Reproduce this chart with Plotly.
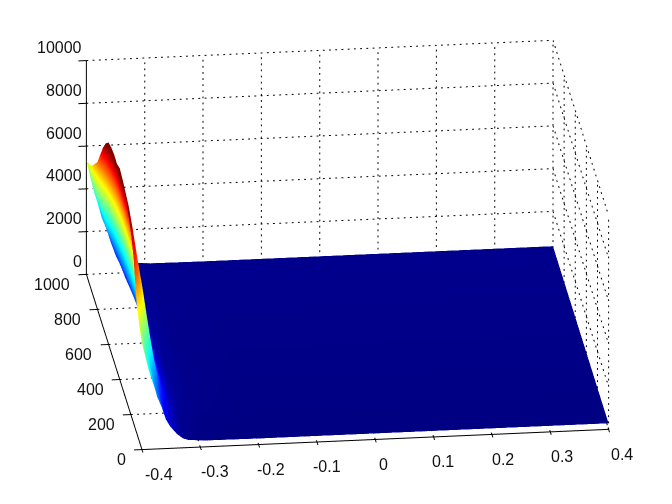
import plotly.graph_objects as go

x_ticks = [-0.4, -0.3, -0.2, -0.1, 0, 0.1, 0.2, 0.3, 0.4]
x_labels = ["-0.4", "-0.3", "-0.2", "-0.1", "0", "0.1", "0.2", "0.3", "0.4"]
y_ticks = [0, 200, 400, 600, 800, 1000]
z_ticks = [0, 2000, 4000, 6000, 8000, 10000]

x_values = [-0.4, -0.394, -0.388, -0.38, -0.374, -0.366, -0.359, -0.352, -0.34, -0.33, -0.32, -0.29, -0.2, 0.4]
y_values = [0, 50, 100, 150, 200, 300, 400, 450, 500, 550, 600, 650, 700, 750, 800, 900, 1000]
z_y0 = [4970, 4313, 3657, 3000, 2437, 1922, 1359, 1030, 655, 444, 350, 294, 280, 280]
z_y50 = [5400, 4684, 3968, 3252, 2638, 2075, 1461, 1103, 694, 464, 362, 300, 285, 285]
z_y100 = [6100, 5287, 4473, 3660, 2963, 2324, 1626, 1220, 755, 493, 377, 307, 290, 290]
z_y150 = [7704, 6966, 6079, 4970, 4010, 3012, 2089, 1498, 870, 575, 427, 338, 295, 295]
z_y200 = [8507, 7934, 7116, 5887, 4824, 3431, 2368, 1631, 895, 608, 444, 346, 300, 300]
z_y300 = [9540, 8896, 7974, 6592, 5395, 3829, 2632, 1802, 973, 651, 466, 356, 310, 310]
z_y400 = [9888, 9219, 8263, 6829, 5587, 3961, 2719, 1859, 999, 664, 473, 358, 320, 320]
z_y450 = [9680, 9025, 8090, 6686, 5470, 3880, 2664, 1822, 980, 652, 465, 353, 325, 325]
z_y500 = [9700, 9044, 8107, 6702, 5484, 3891, 2673, 1829, 986, 658, 471, 358, 330, 330]
z_y550 = [9620, 8970, 8042, 6649, 5442, 3863, 2656, 1821, 985, 660, 474, 363, 335, 335]
z_y600 = [9450, 8812, 7901, 6535, 5351, 3802, 2618, 1798, 978, 659, 477, 367, 340, 340]
z_y650 = [9000, 8394, 7528, 6230, 5104, 3633, 2507, 1728, 949, 646, 473, 369, 343, 343]
z_y700 = [8400, 7836, 7031, 5822, 4775, 3406, 2359, 1634, 909, 627, 466, 369, 345, 345]
z_y750 = [7650, 7139, 6409, 5314, 4365, 3124, 2175, 1518, 861, 605, 460, 372, 350, 350]
z_y800 = [6900, 6442, 5787, 4806, 3955, 2842, 1991, 1402, 813, 584, 453, 375, 355, 355]
z_y900 = [5900, 5125, 4350, 3575, 2911, 2302, 1638, 1251, 808, 559, 448, 382, 365, 365]
z_y1000 = [5300, 4611, 3921, 3232, 2641, 2099, 1508, 1163, 769, 547, 449, 390, 375, 375]
z_rows = [z_y0, z_y50, z_y100, z_y150, z_y200, z_y300, z_y400, z_y450, z_y500, z_y550, z_y600,
          z_y650, z_y700, z_y750, z_y800, z_y900, z_y1000]

jet = [[0, "rgb(0,0,128)"], [0.125, "rgb(0,0,255)"], [0.375, "rgb(0,255,255)"],
       [0.625, "rgb(255,255,0)"], [0.875, "rgb(255,0,0)"], [1, "rgb(128,0,0)"]]

x0, x1 = x_ticks[0], x_ticks[-1]
y0, y1 = y_ticks[0], y_ticks[-1]
z0, z1 = z_ticks[0], z_ticks[-1]

gx, gy, gz = [], [], []
def seg(a, b, n):
    # a dotted grid line: n short solid dashes between two axis ticks
    for i in range(n):
        for k in (i, i + 0.3):
            s = k / n
            gx.append(a[0] + (b[0] - a[0]) * s)
            gy.append(a[1] + (b[1] - a[1]) * s)
            gz.append(a[2] + (b[2] - a[2]) * s)
        gx.append(None); gy.append(None); gz.append(None)
for t in x_ticks:
    seg((t, y0, z0), (t, y1, z0), 30)
    seg((t, y1, z0), (t, y1, z1), 35)
for t in y_ticks:
    seg((x0, t, z0), (x1, t, z0), 75)
    seg((x1, t, z0), (x1, t, z1), 35)
for t in z_ticks:
    seg((x0, y1, t), (x1, y1, t), 75)
    seg((x1, y1, t), (x1, y0, t), 30)

fig = go.Figure()
fig.add_trace(go.Scatter3d(x=gx, y=gy, z=gz, mode="lines", hoverinfo="skip",
                           line=dict(color="black", width=2), showlegend=False))
fig.add_trace(go.Surface(x=x_values, y=y_values, z=z_rows, colorscale=jet, cmin=250, cmax=8900,
                         showscale=False, hoverinfo="skip",
                         lighting=dict(ambient=1, diffuse=0, specular=0, roughness=1, fresnel=0)))

def axis(rng, ticks):
    return dict(range=rng, tickvals=ticks, showgrid=False, zeroline=False, showbackground=False,
                showline=True, linecolor="black", linewidth=2, ticks="outside", ticklen=8,
                tickcolor="black", tickwidth=2, showspikes=False, title=dict(text=""),
                showticklabels=False)

font = dict(family="Liberation Sans, Arial", size=16, color="#111111")
ann = []
for t, s in zip(x_ticks, x_labels):
    ann.append(dict(x=t, y=y0, z=z0, text=s, showarrow=False, font=font, xanchor="center",
                    yanchor="middle", xshift=8 + 24 * abs(t) if t < 0 else 8 + 14 * t, yshift=-25))
for t in y_ticks:
    ann.append(dict(x=x0, y=t, z=z0, text=str(t), showarrow=False, font=font, xanchor="right",
                    yanchor="middle", xshift=-14, yshift=-10))
for t in z_ticks:
    ann.append(dict(x=x0, y=y1, z=t, text=str(t), showarrow=False, font=font, xanchor="right",
                    yanchor="middle", xshift=-2, yshift=13))

fig.update_layout(
    width=672, height=504, paper_bgcolor="white", margin=dict(l=0, r=0, t=0, b=0),
    scene=dict(
        domain=dict(x=[0.022, 0.988], y=[0.054, 1]),
        xaxis=axis([x0, x1], x_ticks),
        yaxis=axis([y0, y1], y_ticks),
        zaxis=axis([z0, z1], z_ticks),
        annotations=ann,
        aspectmode="manual", aspectratio=dict(x=1.97, y=2.0, z=0.965),
        camera=dict(projection=dict(type="orthographic"), up=dict(x=0, y=0, z=1),
                    center=dict(x=0, y=0, z=-0.007),
                    eye=dict(x=-0.1083 * 5, y=-0.9233 * 5, z=0.3686 * 5)),
    ),
)
fig.write_html("out.html")
